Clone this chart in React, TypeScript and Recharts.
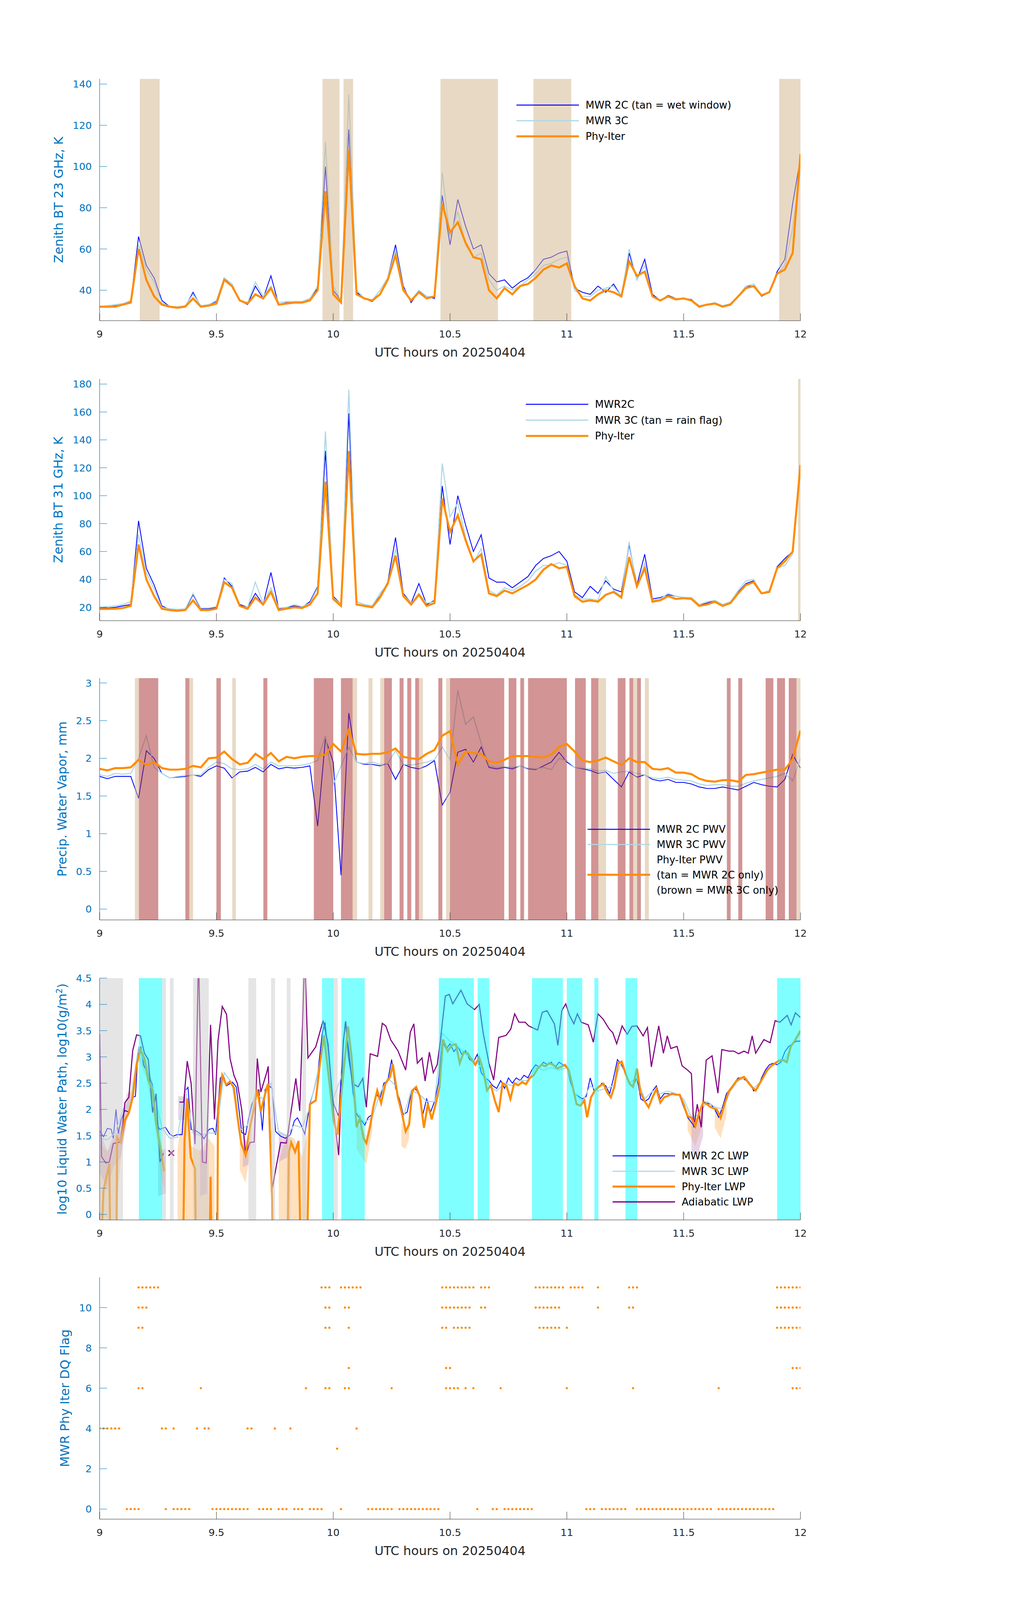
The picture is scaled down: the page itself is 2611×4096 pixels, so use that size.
import React from "react";
import {
  LineChart,
  ComposedChart,
  ScatterChart,
  Line,
  Area,
  Scatter,
  XAxis,
  YAxis,
  ReferenceArea,
  Legend,
} from "recharts";

// ---- layout (output px) ----
const W = 2611;
const CHART_H = 760;
const TOP_PAD = 20;
const PLOT_LEFT = 255;
const PLOT_RIGHT = 2049;
const PLOT_W = PLOT_RIGHT - PLOT_LEFT;
const PLOT_H = 619;
const MARGIN = { top: TOP_PAD, right: W - PLOT_RIGHT, bottom: 0, left: 0 };
const PANEL_TOPS = [202, 969.5, 1736, 2504, 3270];

const FONT = "DejaVu Sans";
const BLUE = "#0000FF";
const LIGHT = "#ADD8E6";
const ORANGE = "#FF8C00";
const PURPLE = "#800080";
const AXIS_BLUE = "#0072BD";
const DARK = "#262626";
const TAN = "#D2B48C";
const BROWN = "#A52A2A";
const CYAN = "#00FFFF";
const GRAY = "#CCCCCC";

const W_BLUE = 2.1;
const W_LIGHT = 2.7;
const W_ORANGE = 5.2;
const W_PURPLE = 2.8;

const hourTicks = [9, 9.5, 10, 10.5, 11, 11.5, 12];

// minutes after 09:00 UTC, 2-minute grid
const grid2 = [
  0, 2, 4, 6, 8, 10, 12, 14, 16, 18, 20, 22, 24, 26, 28, 30, 32, 34, 36, 38, 40, 42, 44, 46, 48, 50,
  52, 54, 56, 58, 60, 62, 64, 66, 68, 70, 72, 74, 76, 78, 80, 82, 84, 86, 88, 90, 92, 94, 96, 98, 100,
  102, 104, 106, 108, 110, 112, 114, 116, 118, 120, 122, 124, 126, 128, 130, 132, 134, 136, 138, 140,
  142, 144, 146, 148, 150, 152, 154, 156, 158, 160, 162, 164, 166, 168, 170, 172, 174, 176, 178, 180,
];

// ---- panel 1: 23 GHz ----
const bt23Ticks = [40, 60, 80, 100, 120, 140];
const bt23Phy = [
  32, 32, 32, 33, 34, 60, 45, 37, 33, 32,
  31.5, 32, 36, 32, 32.5, 33.5, 45, 42, 35, 33.5,
  38, 36, 41, 33, 33.5, 34, 34, 35, 40, 88,
  38, 34, 108, 38, 36, 35, 38, 45, 57, 40,
  35, 39, 36, 37, 82, 68, 73, 63, 56, 55,
  40, 36, 41, 38, 42, 43, 46, 50, 52, 51,
  53, 42, 36, 35, 38, 40, 39, 37, 54, 47,
  49, 37, 35, 37, 35.5, 36, 35, 32, 33, 33.5,
  32, 33, 37, 41, 42, 37.5, 39, 48, 50, 58,
  106,
];
const bt23Mwr2c = [
  32, 32, 32.5, 33, 34.5, 66, 52, 46, 35, 32,
  31.5, 32, 39, 32, 33, 34.5, 46, 42, 35, 33,
  42, 36, 47, 33, 34, 34, 34, 36, 41, 100,
  40, 35, 118, 39, 36, 34.5, 38, 46, 62, 42,
  34, 39.5, 37, 36, 86, 62, 84, 71, 60, 62,
  48, 44, 45, 41, 44, 46, 50, 55, 56, 58,
  59, 41, 39, 38, 42, 39, 43, 37, 58, 45,
  55, 38, 35, 37.5, 36, 36, 35.5, 32, 33, 33.5,
  32, 33, 37, 42, 42, 37, 39, 49, 55, 82,
  104,
];
const bt23Mwr3c = [
  32, 32.5, 33, 33.5, 35, 62, 50, 44, 34, 32,
  32, 32.5, 38, 32.5, 33, 35, 46, 43, 35, 34,
  44, 37, 42, 34, 34.5, 34.5, 34.5, 36, 42, 112,
  42, 35, 135, 40, 36, 35, 40, 46, 60, 41,
  35, 40, 37, 37, 97, 66, 78, 62, 56, 58,
  45, 40, 42, 40, 42, 45, 48, 52, 53, 55,
  56, 40, 37, 37, 40, 41, 42, 37, 60, 45,
  52, 37, 35, 37, 36, 36, 35, 32.5, 33, 34,
  32.5, 33.5, 37, 42, 43, 37.5, 39, 48, 52, 70,
  98,
];
const wetWindow23 = [
  [9.172, 9.257], [9.954, 10.027], [10.044, 10.085], [10.459, 10.705], [10.857, 11.019], [11.909, 12.0],
];

// ---- panel 2: 31 GHz ----
const bt31Ticks = [20, 40, 60, 80, 100, 120, 140, 160, 180];
const bt31Phy = [
  18.8, 18.8, 19, 19.5, 21, 65, 40, 28, 19, 18,
  17.5, 18, 25, 18, 18, 19, 38, 34, 21, 19,
  27, 22, 31, 18, 19, 20, 19.5, 22, 30, 110,
  26, 21, 132, 22, 21, 20, 27, 37, 57, 28,
  22, 29, 21, 23, 98, 74, 86, 68, 53, 58,
  30, 28, 32, 30, 33, 36, 40, 47, 51, 48,
  49, 28, 24, 25, 24, 29, 31, 27, 56, 35,
  48, 24, 25, 28, 26, 26.5, 26, 21, 22, 24,
  21, 23, 30, 36, 38, 30, 31, 48, 53, 60,
  122,
];
const bt31Mwr2c = [
  19.5, 19.5, 20, 21, 22, 82, 48, 36, 21, 18.5,
  18, 18.5, 29, 19, 19, 20, 41, 35, 22, 20,
  30, 22, 45, 19, 20, 21, 20, 24, 35, 132,
  28, 22, 159, 24, 22, 21, 28, 38, 70, 30,
  23, 37, 22, 25, 107, 65, 100, 79, 60, 72,
  41, 38, 38, 34, 38, 42, 50, 55, 57, 60,
  53, 31, 27, 35, 30, 39, 33, 31, 65, 36,
  58, 26, 27, 29, 28, 27, 27, 21.5, 23, 25,
  22, 24, 31, 37, 39, 30, 32, 49, 55, 60,
  122,
];
const bt31Mwr3c = [
  20, 20.5, 21, 22, 24, 72, 45, 33, 20, 19,
  18.5, 19, 30, 19.5, 19.5, 20.5, 40, 37, 21, 20,
  38, 23, 34, 19.5, 20, 22, 20.5, 23, 34, 146,
  27, 22, 176, 24, 22, 21, 30, 37, 62, 29,
  23, 30, 23, 24, 123, 85, 95, 70, 52, 62,
  32, 29, 34, 32, 35, 39, 46, 50, 50, 52,
  50, 29, 26, 26, 25, 42, 32, 28, 67, 34,
  52, 25, 26, 30, 28, 27, 27, 22, 24, 25,
  22, 24, 32, 39, 40, 30, 32, 48, 50, 58,
  118,
];
const rainFlag31 = [[11.99, 12.0]];

// ---- panel 3: PWV ----
const pwvTicks = [0, 0.5, 1, 1.5, 2, 2.5, 3];
const pwvPhy = [
  1.86, 1.84, 1.87, 1.87, 1.88, 1.98, 1.91, 1.95, 1.87, 1.85,
  1.85, 1.86, 1.9, 1.88, 2.0, 2.01, 2.09, 1.99, 1.92, 1.94,
  2.06, 1.99, 2.07, 1.96, 2.02, 2.0, 2.02, 2.03, 2.03, 2.05,
  2.19, 2.09, 2.38, 2.06, 2.05, 2.06, 2.06, 2.08, 2.13, 2.02,
  2.0, 1.99, 2.06, 2.11, 2.3, 2.36, 1.92, 2.09, 2.07, 2.06,
  1.96, 1.94, 1.98, 2.03, 2.03, 2.03, 2.02, 2.01, 2.05, 2.15,
  2.19, 2.09, 1.97, 1.95, 1.97, 2.01, 1.96, 1.91, 2.0, 1.95,
  1.95, 1.86, 1.85, 1.87, 1.81, 1.81, 1.79, 1.73, 1.7, 1.69,
  1.71, 1.71, 1.69, 1.78, 1.79, 1.81, 1.83, 1.85, 1.85, 1.99,
  2.37,
];
const pwvMwr2c = [
  1.76, 1.73, 1.76, 1.76, 1.76, 1.47, 2.1, 2.0, 1.8, 1.74,
  1.75, 1.76, 1.78, 1.76, 1.85, 1.9, 1.87, 1.74, 1.82, 1.83,
  1.88, 1.82, 1.92, 1.86, 1.88, 1.87, 1.88, 1.9, 1.1, 2.26,
  1.95, 0.45, 2.6, 1.95, 1.92, 1.92, 1.9, 1.93, 1.72, 1.92,
  1.88, 1.86, 1.9, 1.97, 1.38, 1.55, 2.08, 2.12, 1.95, 2.15,
  1.88, 1.86, 1.88, 1.86, 1.9, 1.86, 1.85, 1.9, 1.95, 2.08,
  1.95, 1.88, 1.86, 1.84, 1.8, 1.82, 1.72, 1.62, 1.82, 1.75,
  1.78, 1.72, 1.7, 1.72, 1.68, 1.68, 1.66, 1.62, 1.6, 1.6,
  1.62, 1.6, 1.58, 1.63, 1.68, 1.65, 1.63, 1.62, 1.72, 2.05,
  1.87,
];
const pwvMwr3c = [
  1.78, 1.76, 1.8, 1.79, 1.8, 2.0, 2.3, 1.88, 1.8, 1.74,
  1.76, 1.77, 1.78, 1.78, 1.88, 1.95, 1.93, 1.86, 1.85, 1.86,
  1.92, 1.86, 1.95, 1.9, 1.9, 1.9, 1.91, 1.93, 1.97, 2.3,
  1.65, 1.9, 2.15, 1.95, 1.93, 1.95, 1.92, 1.93, 2.1, 1.92,
  1.91, 1.93, 1.95, 1.98, 2.15, 1.98, 2.9, 2.45, 2.55, 2.2,
  1.9, 1.88, 1.89, 1.88, 1.9, 1.87, 1.86, 1.88, 1.85, 2.0,
  1.97, 1.88, 1.87, 1.86, 1.83, 1.84, 1.8, 1.82, 1.83, 1.8,
  1.78, 1.74, 1.73, 1.75, 1.72, 1.71, 1.7, 1.66, 1.64, 1.65,
  1.65, 1.63, 1.63, 1.67, 1.7, 1.72, 1.74, 1.76, 1.8, 1.7,
  2.0,
];
const pwvTanBands = [
  [9.151, 9.168], [9.384, 9.4], [9.568, 9.583], [10.083, 10.102], [10.151, 10.168], [10.201, 10.218],
  [10.367, 10.384], [10.483, 10.5], [11.135, 11.168], [11.284, 11.301], [11.334, 11.351], [11.983, 12.0],
];
const pwvBrownBands = [
  [9.168, 9.251], [9.367, 9.384], [9.5, 9.519], [9.701, 9.718], [9.917, 10.0], [10.033, 10.083],
  [10.218, 10.251], [10.284, 10.301], [10.317, 10.334], [10.351, 10.367], [10.45, 10.467], [10.5, 10.732],
  [10.751, 10.784], [10.801, 10.817], [10.834, 11.0], [11.035, 11.081], [11.104, 11.135], [11.218, 11.251],
  [11.268, 11.284], [11.301, 11.317], [11.685, 11.701], [11.734, 11.751], [11.851, 11.884], [11.9, 11.934],
  [11.95, 11.983],
];

// ---- panel 4: LWP (log10) ----
const lwpTicks = [0, 0.5, 1, 1.5, 2, 2.5, 3, 3.5, 4, 4.5];
const lwpAdiabatic: [number, number | null][] = [
  [0, 3.44], [0.5, 1.1], [1.6, 0.98], [2.5, 1.0], [3.5, 1.35], [5.4, 1.38], [6.5, 2.13], [7.5, 2.23],
  [8.5, 3.12], [9.5, 3.42], [10.5, 3.4], [11.5, 3.07], [12.5, 2.95], [13.6, 1.94], [14.5, 2.3], [15.5, 1.0],
  [16.4, 1.17], [17.4, null], [20.5, 2.14], [21.6, 2.14], [22.5, 2.92], [23.5, 2.5], [24.5, 1.34], [25.4, 5.0],
  [26.4, 1.0], [27.4, 0.98], [28.5, 3.61], [29.5, 1.81], [30.4, 3.3], [31.5, 3.96], [32.6, 3.81], [33.5, 2.97],
  [34.5, 2.65], [35.4, 2.49], [36.5, 1.99], [37.5, 1.13], [38.6, 1.37], [39.7, 1.38], [40.5, 2.97], [41.4, 2.33],
  [42.9, 2.7], [43.3, 2.82], [44.3, 0.48], [46.5, 1.37], [48, 1.36], [50.4, 2.59], [51.4, 1.97], [52.7, 5.0],
  [53.5, 2.98], [55.5, 3.19], [57.4, 3.69], [58.7, 3.24], [60.1, 1.94], [61.4, 1.13], [62.6, 3.3], [63.2, 3.68],
  [63.9, 3.01], [65, 2.49], [66.4, 2.43], [67.6, 2.59], [68.5, 2.04], [69.5, 3.06], [71.4, 3.01], [72.6, 3.64],
  [73.5, 3.59], [74.8, 3.32], [76.6, 3.12], [78.6, 2.75], [79.8, 3.47], [80.7, 3.63], [81.6, 2.88], [82.8, 2.98],
  [83.6, 2.54], [84.7, 3.09], [85.7, 2.7], [86.7, 2.85], [87.5, 3.3], [88.8, 4.16], [89.8, 4.19], [90.7, 4.01],
  [92.8, 4.27], [94.4, 4.01], [96.3, 3.9], [97.5, 4.0], [98.5, 3.46], [100, 2.88], [101.2, 2.56], [102.5, 3.37],
  [104.4, 3.41], [105.6, 3.53], [106.6, 3.82], [107.7, 3.66], [109.3, 3.66], [110.2, 3.59], [112.5, 3.51],
  [113.7, 3.85], [114.9, 3.88], [116.8, 3.63], [117.7, 3.22], [118.7, 3.88], [119.7, 4.01], [120.7, 3.79],
  [121.8, 3.63], [122.7, 3.82], [123.7, 3.66], [125.5, 3.61], [126.8, 3.28], [128, 3.82], [129.3, 3.72],
  [130.9, 3.53], [131.8, 3.46], [132.8, 3.25], [134.2, 3.59], [135.5, 3.43], [136.7, 3.58], [138, 3.59],
  [139.6, 3.4], [140.7, 3.56], [141.7, 2.81], [143.6, 3.59], [144.8, 3.07], [145.8, 3.4], [146.7, 3.16],
  [148.3, 3.2], [149.6, 2.83], [151, 2.75], [152, 2.68], [152.6, 1.66], [153.5, 2.1], [154.5, 1.66],
  [155.8, 2.94], [157.3, 3.02], [158.8, 2.31], [159.8, 3.14], [161.6, 3.11], [162.9, 3.11], [164.1, 3.06],
  [165.5, 3.11], [166.6, 3.07], [167.6, 3.4], [168.5, 3.07], [170.6, 3.33], [172.2, 3.27], [173.5, 3.69],
  [174.7, 3.66], [176.6, 3.79], [177.6, 3.61], [178.7, 3.84], [180, 3.75],
];
const lwpPhy: [number, number | null][] = [
  [0.2, -1], [1, 0.46], [2.5, 0.97], [2.8, -1], [3, null], [4.3, -1], [4.5, 1.47], [5.5, 1.37], [6.5, 1.8],
  [7.5, 1.93], [8.5, 2.23], [9.5, 2.85], [10.5, 3.14], [11.5, 2.97], [12.5, 2.56], [13.6, 2.36], [14.5, 1.75],
  [16, 1.08], [16.6, 0.82], [17, null], [21.4, -1], [21.8, 1.4], [22.5, 2.21], [23.4, 1.09], [24.5, 0.87],
  [24.8, -1], [25, null], [28.2, -1], [28.5, 0.72], [28.8, -1], [29, null], [30.2, -1], [30.4, 2.01],
  [31.5, 2.65], [32.5, 2.47], [33.5, 2.53], [34.5, 2.41], [35.4, 1.86], [36.4, 1.34], [37.5, 1.13], [38.6, 1.66],
  [39.7, 2.04], [40.5, 2.38], [41.4, 1.96], [42.9, 2.41], [43.3, 2.49], [44.3, 0.3], [44.5, -1], [45, null],
  [48.2, -1], [48.6, 1.18], [49.2, 1.37], [50.2, 1.19], [51.1, 1.4], [51.7, -1], [52, null], [53.2, -1],
  [54, 2.1], [55.5, 2.17], [56.6, 2.88], [57.6, 3.41], [58.9, 2.59], [60.1, 1.78], [61.1, 1.52], [62.5, 2.6],
  [63.8, 3.58], [64.7, 3.01], [66, 1.66], [66.8, 1.84], [67.8, 1.45], [68.5, 1.36], [69.5, 1.68], [70.3, 2.05],
  [71.3, 2.36], [72.3, 2.12], [73.4, 2.49], [74.6, 2.62], [75.3, 2.86], [76.6, 2.23], [77.6, 1.94], [78.6, 1.58],
  [79.5, 1.71], [80.3, 2.36], [81.3, 2.43], [82.3, 2.23], [83.3, 1.65], [84.3, 2.1], [85.3, 1.81], [86.3, 2.1],
  [87.3, 2.43], [88.2, 3.33], [89.4, 3.11], [90.4, 3.22], [91.5, 3.24], [92.5, 2.88], [93.5, 3.09], [94.5, 3.07],
  [95.6, 2.94], [96.5, 2.85], [97.5, 2.99], [98.5, 2.75], [99.5, 2.36], [100.5, 2.46], [101.5, 2.17],
  [102.5, 1.95], [103.5, 2.5], [104.5, 2.45], [105.5, 2.2], [106.5, 2.5], [107.5, 2.46], [108.5, 2.52],
  [109.5, 2.48], [110.5, 2.6], [111.5, 2.65], [112.5, 2.78], [113.5, 2.85], [114.5, 2.82], [115.5, 2.88],
  [116.5, 2.85], [117.5, 2.78], [118.5, 2.81], [119.5, 2.85], [120.5, 2.75], [121.5, 2.43], [122.5, 2.1],
  [123.5, 2.07], [124.5, 2.17], [125.2, 1.85], [126.2, 2.23], [127.2, 2.36], [128.2, 2.43], [129.4, 2.49],
  [130.3, 2.33], [131.3, 2.23], [132.2, 2.43], [133.2, 2.88], [134.1, 2.91], [135.1, 2.68], [136.1, 2.49],
  [137, 2.43], [138, 2.78], [138.9, 2.33], [139.9, 2.17], [141, 2.04], [142, 2.23], [143, 2.39], [144, 2.13],
  [145, 2.23], [146, 2.26], [147, 2.3], [148, 2.28], [149, 2.28], [150, 2.1], [151, 1.87], [152, 1.84],
  [153, 1.68], [154, 1.94], [155, 2.13], [156, 2.1], [157, 2.04], [158.5, 2.0], [159.5, 1.84], [160.5, 2.1],
  [161.5, 2.33], [162.5, 2.43], [163.5, 2.54], [164.5, 2.59], [165.5, 2.62], [166.5, 2.52], [167.5, 2.43],
  [168.5, 2.36], [169.5, 2.49], [170.5, 2.62], [171.5, 2.75], [172.5, 2.83], [173.5, 2.88], [174.5, 2.93],
  [175.5, 2.94], [176.5, 2.9], [177.5, 3.2], [178.5, 3.3], [180, 3.5],
];
const lwpMwr2c: [number, number | null][] = [
  [0, 1.59], [1, 1.48], [2, 1.64], [3, 1.62], [3.5, 1.45], [4.2, 2.0], [4.8, 1.54], [5.5, 1.8], [6.5, 1.98],
  [7.5, 1.95], [8.5, 2.23], [9.2, 2.25], [9.9, 3.13], [10.6, 3.19], [11.3, 2.84], [12.4, 2.69], [13.5, 2.48],
  [14.5, 1.75], [15.4, 1.62], [16.9, 1.66], [18, 1.53], [18.9, 1.49], [19.9, 1.52], [21.2, 1.52], [21.9, 2.35],
  [22.7, 2.42], [23.5, 1.62], [24.8, 1.59], [26, 1.53], [26.8, 1.44], [28.1, 1.62], [29.1, 1.64], [29.8, 1.52],
  [31, 2.6], [31.8, 2.65], [32.6, 2.45], [34.1, 2.52], [35.1, 2.43], [35.9, 1.93], [36.5, 1.56], [37.5, 1.52],
  [38.2, 1.8], [39.1, 2.1], [40, 2.23], [40.9, 2.38], [41.8, 1.6], [42.5, 2.38], [43.5, 2.45], [44.3, 2.4],
  [45.2, 1.58], [46.5, 1.49], [47.7, 1.45], [49, 1.52], [50, 1.78], [50.8, 1.84], [51.7, 1.71], [52.7, 1.53],
  [54, 2.1], [55, 2.36], [56, 2.68], [57.2, 3.46], [57.9, 3.66], [58.9, 2.91], [60.1, 2.1], [61.4, 1.87],
  [62.4, 3.07], [63.1, 3.66], [64.1, 3.07], [65.1, 2.3], [66.1, 1.9], [67.1, 1.8], [68.1, 1.7], [69, 1.85],
  [70, 1.9], [71, 2.3], [72, 2.2], [73, 2.5], [74, 2.55], [75, 2.95], [76, 2.4], [77, 2.2], [78, 1.9],
  [79, 1.95], [80, 2.3], [81, 2.4], [82, 2.3], [83, 1.9], [84, 2.2], [85, 1.95], [86, 2.15], [87, 2.5],
  [88, 3.3], [89, 3.15], [90, 3.25], [91, 3.1], [92, 3.2], [93, 3.05], [94, 3.12], [95, 2.95], [96, 2.9],
  [97, 3.05], [98, 2.7], [99, 2.6], [100, 2.55], [101, 2.45], [102, 2.4], [103, 2.55], [104, 2.4], [105, 2.6],
  [106, 2.5], [107, 2.6], [108, 2.55], [109, 2.65], [110, 2.6], [111, 2.75], [112, 2.85], [113, 2.8],
  [114, 2.9], [115, 2.85], [116, 2.9], [117, 2.8], [118, 2.9], [119, 2.85], [120, 2.8], [121, 2.5],
  [122, 2.3], [123, 2.25], [124, 2.2], [125, 2.25], [126, 2.6], [127, 2.35], [128, 2.4], [129, 2.5],
  [130, 2.45], [131, 2.3], [132, 2.6], [133, 2.95], [134, 2.85], [135, 2.7], [136, 2.5], [137, 2.45],
  [138, 2.6], [139, 2.2], [140, 2.15], [141, 2.2], [142, 2.35], [143, 2.45], [144, 2.2], [145, 2.3],
  [146, 2.3], [147, 2.28], [148, 2.3], [149, 2.25], [150, 2.05], [151, 1.85], [152, 1.75], [153, 1.65],
  [154, 1.95], [155, 2.15], [156, 2.12], [157, 2.1], [158, 2.0], [159, 1.85], [160, 2.05], [161, 2.3],
  [162, 2.4], [163, 2.5], [164, 2.6], [165, 2.6], [166, 2.55], [167, 2.5], [168, 2.35], [169, 2.4],
  [170, 2.6], [171, 2.75], [172, 2.85], [173, 2.88], [174, 2.85], [175, 2.9], [176, 3.1], [177, 3.2],
  [178, 3.25], [179, 3.3], [180, 3.3],
];
const lwpMwr3c = [
  1.45, 1.42, 1.55, 2.0, 2.15, 3.2, 2.8, 2.3, 1.65, 1.45,
  1.47, 2.4, 1.55, 1.5, 1.55, 1.55, 2.7, 2.5, 1.6, 1.7,
  2.3, 2.2, 2.5, 1.55, 1.5, 1.7, 1.65, 2.05, 2.7, 3.45,
  2.2, 2.6, 3.5, 1.95, 1.75, 1.85, 2.3, 2.6, 2.45, 1.85,
  2.35, 2.3, 2.15, 2.15, 3.45, 3.3, 3.2, 3.05, 2.95, 2.8,
  2.45, 2.35, 2.5, 2.45, 2.55, 2.55, 2.8, 2.75, 2.8, 2.75,
  2.8, 2.3, 2.15, 2.45, 2.35, 2.4, 2.45, 2.9, 2.5, 2.6,
  2.2, 2.35, 2.3, 2.35, 2.3, 2.2, 1.85, 1.9, 2.15, 2.05,
  2.0, 2.35, 2.55, 2.6, 2.4, 2.55, 2.8, 2.9, 2.95, 3.25,
  3.45,
];
// uncertainty envelopes [minute, low, high]
const lwpPhySpread: [number, number | null, number | null][] = [
  [0, -0.2, 1.35], [2, -0.2, 1.2], [4, -0.2, 1.45], [6, 1.55, 1.9], [8, 2.05, 2.35], [10, 2.95, 3.2],
  [12, 2.6, 2.95], [14, 1.8, 2.4], [16, 0.6, 1.3], [16.8, 0.5, 1.0], [17, null, null],
  [20, -0.2, 1.25], [22, -0.2, 2.3], [23.5, -0.2, 1.3], [26, -0.2, 1.2], [28, -0.2, 1.45], [29.5, -0.2, 1.3],
  [30, null, null], [36, 0.85, 1.5], [37.5, 0.6, 1.25], [39, 1.4, 1.75], [39.5, null, null],
  [46, -0.2, 1.0], [48, -0.2, 1.5], [50, -0.2, 1.45], [52, -0.2, 1.1], [53.5, -0.2, 1.6], [54, null, null],
  [66, 1.25, 1.75], [68.5, 0.95, 1.5], [70, 1.6, 2.0], [70.5, null, null],
  [77.5, 1.3, 1.75], [78.6, 1.25, 1.65], [79.5, 1.45, 1.8], [80, null, null],
  [151, 1.6, 1.95], [153, 1.3, 1.8], [155, 1.75, 2.1], [155.5, null, null],
  [158, 1.65, 2.0], [159.5, 1.45, 1.9], [161, 1.9, 2.2],
];
const lwpAdiSpread: [number, number | null, number | null][] = [
  [0, 0.8, 1.6], [2, 0.5, 1.2], [3.5, 0.9, 1.5], [5.5, 1.1, 1.6], [7, 1.8, 2.3], [8, 2.1, 2.35], [8.5, null, null],
  [15, 0.35, 1.2], [17, 0.4, 1.25], [17.5, null, null], [20.2, 1.8, 2.25], [22, 1.8, 2.25], [22.5, null, null],
  [25.8, 0.35, 1.25], [27.6, 0.4, 1.2], [28, null, null], [36.8, 0.9, 1.5], [38.2, 0.95, 1.35], [38.5, null, null],
  [46, 1.0, 1.6], [48.5, 1.1, 1.5], [49, null, null], [152, 1.2, 2.0], [153.5, 1.1, 1.8], [155, 1.5, 2.1],
];
const lwpAdiMarker: [number, number][] = [[18.4, 1.17]];
const lwpGrayBands = [
  [9.0, 9.1], [9.268, 9.284], [9.301, 9.317], [9.4, 9.467], [9.637, 9.67], [9.734, 9.751], [9.801, 9.817],
  [9.867, 9.884], [10.002, 10.019],
];
const lwpCyanBands = [
  [9.168, 9.268], [9.952, 10.002], [10.035, 10.135], [10.452, 10.602], [10.618, 10.668], [10.851, 10.983],
  [11.0, 11.066], [11.118, 11.135], [11.251, 11.301], [11.9, 12.0],
];

// ---- panel 5: DQ flags (minutes after 09:00 for each flag value) ----
const flagTicks = [0, 2, 4, 6, 8, 10];
const flag11Min = [10, 11, 12, 13, 14, 15, 57, 58, 59, 62, 63, 64, 65, 66, 67, 88, 89, 90, 91, 92, 93, 94, 95, 96,
  98, 99, 100, 112, 113, 114, 115, 116, 117, 118, 119, 121, 122, 123, 124, 128, 136, 137, 138,
  174, 175, 176, 177, 178, 179, 180];
const flag10Min = [10, 11, 12, 58, 59, 63, 64, 88, 89, 90, 91, 92, 93, 94, 95, 98, 99, 112, 113, 114, 115, 116,
  117, 118, 128, 136, 137, 174, 175, 176, 177, 178, 179, 180];
const flag9Min = [10, 11, 58, 59, 64, 88, 89, 91, 92, 93, 94, 95, 113, 114, 115, 116, 117, 118, 120,
  174, 175, 176, 177, 178, 179, 180];
const flag7Min = [64, 89, 90, 178, 179, 180];
const flag6Min = [10, 11, 26, 53, 58, 59, 63, 64, 75, 89, 90, 91, 92, 94, 96, 103, 120, 137, 159, 178, 179, 180];
const flag4Min = [0, 1, 2, 3, 4, 5, 16, 17, 19, 25, 27, 28, 38, 39, 45, 49, 66];
const flag3Min = [61];
const flag0Min = [7, 8, 9, 10, 17, 19, 20, 21, 22, 23, 29, 30, 31, 32, 33, 34, 35, 36, 37, 38, 41, 42, 43, 44,
  46, 47, 48, 50, 51, 52, 54, 55, 56, 57, 62, 69, 70, 71, 72, 73, 74, 75, 77, 78, 79, 80, 81, 82, 83, 84, 85,
  86, 87, 97, 101, 102, 104, 105, 106, 107, 108, 109, 110, 111, 125, 126, 127, 129, 130, 131, 132, 133, 134,
  135, 138, 139, 140, 141, 142, 143, 144, 145, 146, 147, 148, 149, 150, 151, 152, 153, 154, 155, 156, 157,
  159, 160, 161, 162, 163, 164, 165, 166, 167, 168, 169, 170, 171, 172, 173];

// ---- helpers to build tables ----
const hour = (m: number) => 9 + m / 60;
const gridPts = (vals: number[]) => grid2.map((m, i) => ({ t: hour(m), v: vals[i] }));
const pairPts = (pairs: [number, number | null][]) => pairs.map(([m, v]) => ({ t: hour(m), v }));
const spreadPts = (rows: [number, number | null, number | null][]) =>
  rows.map(([m, lo, hi]) => ({ t: hour(m), r: lo === null || hi === null ? null : [lo, hi] }));
const flagPts = [
  ...flag0Min.map((m) => ({ t: hour(m), f: 0 })),
  ...flag3Min.map((m) => ({ t: hour(m), f: 3 })),
  ...flag4Min.map((m) => ({ t: hour(m), f: 4 })),
  ...flag6Min.map((m) => ({ t: hour(m), f: 6 })),
  ...flag7Min.map((m) => ({ t: hour(m), f: 7 })),
  ...flag9Min.map((m) => ({ t: hour(m), f: 9 })),
  ...flag10Min.map((m) => ({ t: hour(m), f: 10 })),
  ...flag11Min.map((m) => ({ t: hour(m), f: 11 })),
];

// ---- axis drawing ----
const renderXTick = (p: any) => (
  <g>
    <line x1={p.x} x2={p.x} y1={p.y} y2={p.y - 19} stroke={DARK} strokeWidth={1} />
    <text x={p.x} y={p.y + 34} dy="0.36em" textAnchor="middle" fontSize={25.5} fontFamily={FONT} fill={DARK}>
      {p.payload.value}
    </text>
  </g>
);
const renderYTick = (p: any) => (
  <g>
    <line x1={p.x} x2={p.x + 19} y1={p.y} y2={p.y} stroke={AXIS_BLUE} strokeWidth={1} />
    <text x={p.x - 20} y={p.y} dy="0.36em" textAnchor="end" fontSize={25.5} fontFamily={FONT} fill={AXIS_BLUE}>
      {p.payload.value}
    </text>
  </g>
);

function xAxis() {
  return (
    <XAxis
      key="x"
      type="number"
      dataKey="t"
      domain={[9, 12]}
      ticks={hourTicks}
      allowDataOverflow
      interval={0}
      height={CHART_H - TOP_PAD - PLOT_H}
      tickSize={0}
      tickMargin={0}
      tickLine={false}
      axisLine={{ stroke: DARK, strokeWidth: 1.2 }}
      tick={renderXTick}
      label={{
        value: "UTC hours on 20250404",
        content: () => (
          <text
            x={PLOT_LEFT + PLOT_W / 2}
            y={TOP_PAD + PLOT_H + 80}
            dy="0.36em"
            textAnchor="middle"
            fontSize={32}
            fontFamily={FONT}
            fill={DARK}
          >
            UTC hours on 20250404
          </text>
        ),
      }}
    />
  );
}

function yAxis(domain: number[], ticks: number[], title: React.ReactNode, titleX: number, dataKey?: string) {
  return (
    <YAxis
      key="y"
      type="number"
      dataKey={dataKey}
      domain={domain}
      ticks={ticks}
      allowDataOverflow
      interval={0}
      width={PLOT_LEFT}
      tickSize={0}
      tickMargin={0}
      tickLine={false}
      axisLine={{ stroke: AXIS_BLUE, strokeWidth: 1.2 }}
      tick={renderYTick}
      label={{
        value: "y",
        content: () => (
          <text
            transform={`translate(${titleX},${TOP_PAD + PLOT_H / 2}) rotate(-90)`}
            dy="0.36em"
            textAnchor="middle"
            fontSize={32}
            fontFamily={FONT}
            fill={AXIS_BLUE}
          >
            {title}
          </text>
        ),
      }}
    />
  );
}

type LegendItem = { label: string; color?: string; w?: number };

function legend(items: LegendItem[], x0: number, rowY0: number, gap: number, panel: number) {
  const h = items.length * gap + 20;
  return (
    <Legend
      key="legend"
      layout="horizontal"
      verticalAlign="middle"
      align="center"
      wrapperStyle={{ left: x0, top: rowY0 - (PANEL_TOPS[panel] - TOP_PAD) - 20, width: 760, height: h, margin: 0, padding: 0 }}
      content={() => (
        <svg width={760} height={h} style={{ display: "block", overflow: "visible" }}>
          {items.map((it, i) => {
            const y = 20 + i * gap;
            return (
              <g key={i}>
                {it.color ? <line x1={0} x2={160} y1={y} y2={y} stroke={it.color} strokeWidth={it.w ?? 2.4} /> : null}
                <text x={177} y={y} dy="0.36em" fontSize={26} fontFamily={FONT} fill="#000">
                  {it.label}
                </text>
              </g>
            );
          })}
        </svg>
      )}
    />
  );
}

const lineProps = {
  type: "linear" as const,
  dataKey: "v",
  dot: false,
  activeDot: false,
  isAnimationActive: false,
  connectNulls: false,
};

function bands(list: number[][], color: string, z: number, prefix: string) {
  return list.map(([a, b], i) => (
    <ReferenceArea key={`${prefix}${i}`} x1={a} x2={b} fill={color} fillOpacity={0.5} stroke="none" zIndex={z} />
  ));
}

const Panel = ({ index, children }: { index: number; children: React.ReactNode }) => (
  <div style={{ position: "absolute", left: 0, top: PANEL_TOPS[index] - TOP_PAD, width: W, height: CHART_H }}>
    {children}
  </div>
);

export default function App() {
  return (
    <div
      style={{
        position: "absolute",
        left: 0,
        top: 0,
        width: W,
        height: 4096,
        background: "#fff",
        overflow: "hidden",
        fontFamily: FONT,
      }}
    >
      {/* 23 GHz */}
      <Panel index={0}>
        <LineChart width={W} height={CHART_H} margin={MARGIN}>
          {xAxis()}
          {yAxis([25.2, 142.5], bt23Ticks, "Zenith BT 23 GHz, K", 149)}
          <Line {...lineProps} data={gridPts(bt23Mwr2c)} stroke={BLUE} strokeWidth={W_BLUE} zIndex={401} />
          <Line {...lineProps} data={gridPts(bt23Mwr3c)} stroke={LIGHT} strokeWidth={W_LIGHT} zIndex={402} />
          {bands(wetWindow23, TAN, 403, "w")}
          <Line {...lineProps} data={gridPts(bt23Phy)} stroke={ORANGE} strokeWidth={W_ORANGE} zIndex={404} />
          {legend(
            [
              { label: "MWR 2C (tan = wet window)", color: BLUE, w: 2.4 },
              { label: "MWR 3C", color: LIGHT, w: 2.8 },
              { label: "Phy-Iter", color: ORANGE, w: 5.2 },
            ],
            1322,
            269,
            40,
            0
          )}
        </LineChart>
      </Panel>

      {/* 31 GHz */}
      <Panel index={1}>
        <LineChart width={W} height={CHART_H} margin={MARGIN}>
          {xAxis()}
          {yAxis([10.4, 183.7], bt31Ticks, "Zenith BT 31 GHz, K", 148)}
          <Line {...lineProps} data={gridPts(bt31Mwr2c)} stroke={BLUE} strokeWidth={W_BLUE} zIndex={401} />
          <Line {...lineProps} data={gridPts(bt31Mwr3c)} stroke={LIGHT} strokeWidth={W_LIGHT} zIndex={402} />
          {bands(rainFlag31, TAN, 403, "r")}
          <Line {...lineProps} data={gridPts(bt31Phy)} stroke={ORANGE} strokeWidth={W_ORANGE} zIndex={404} />
          {legend(
            [
              { label: "MWR2C", color: BLUE, w: 2.4 },
              { label: "MWR 3C (tan = rain flag)", color: LIGHT, w: 2.8 },
              { label: "Phy-Iter", color: ORANGE, w: 5.2 },
            ],
            1346,
            1035,
            40.5,
            1
          )}
        </LineChart>
      </Panel>

      {/* PWV */}
      <Panel index={2}>
        <LineChart width={W} height={CHART_H} margin={MARGIN}>
          {xAxis()}
          {yAxis([-0.144, 3.064], pwvTicks, "Precip. Water Vapor, mm", 158)}
          <Line {...lineProps} data={gridPts(pwvMwr2c)} stroke={BLUE} strokeWidth={W_BLUE} zIndex={401} />
          <Line {...lineProps} data={gridPts(pwvMwr3c)} stroke={LIGHT} strokeWidth={W_LIGHT} zIndex={402} />
          {bands(pwvTanBands, TAN, 403, "t")}
          {bands(pwvBrownBands, BROWN, 403, "b")}
          <Line {...lineProps} data={gridPts(pwvPhy)} stroke={ORANGE} strokeWidth={W_ORANGE} zIndex={404} />
          {legend(
            [
              { label: "MWR 2C PWV", color: BLUE, w: 2.4 },
              { label: "MWR 3C PWV", color: LIGHT, w: 2.8 },
              { label: "Phy-Iter PWV" },
              { label: "(tan = MWR 2C only)", color: ORANGE, w: 5.2 },
              { label: "(brown = MWR 3C only)" },
            ],
            1504,
            2123,
            38.8,
            2
          )}
        </LineChart>
      </Panel>

      {/* LWP */}
      <Panel index={3}>
        <ComposedChart width={W} height={CHART_H} margin={MARGIN}>
          {xAxis()}
          {yAxis(
            [-0.104, 4.5],
            lwpTicks,
            <>
              log10 Liquid Water Path, log10(g/m
              <tspan dy={-11} fontSize={21}>
                2
              </tspan>
              <tspan dy={11}>)</tspan>
            </>,
            158,
            "v"
          )}
          <Area
            type="linear"
            dataKey="r"
            data={spreadPts(lwpPhySpread)}
            stroke="none"
            fill="#FFC68A"
            fillOpacity={0.55}
            isAnimationActive={false}
            activeDot={false}
            connectNulls={false}
            zIndex={398}
          />
          <Area
            type="linear"
            dataKey="r"
            data={spreadPts(lwpAdiSpread)}
            stroke="none"
            fill="#C8A0C8"
            fillOpacity={0.45}
            isAnimationActive={false}
            activeDot={false}
            connectNulls={false}
            zIndex={399}
          />
          <Line {...lineProps} data={pairPts(lwpMwr2c)} stroke={BLUE} strokeWidth={W_BLUE} zIndex={401} />
          <Line {...lineProps} data={gridPts(lwpMwr3c)} stroke={LIGHT} strokeWidth={W_LIGHT} zIndex={402} />
          <Line {...lineProps} data={pairPts(lwpAdiabatic)} stroke={PURPLE} strokeWidth={W_PURPLE} zIndex={403} />
          <Line {...lineProps} data={pairPts(lwpPhy)} stroke={ORANGE} strokeWidth={W_ORANGE} zIndex={404} />
          <Scatter
            data={lwpAdiMarker.map(([m, v]) => ({ t: hour(m), v }))}
            dataKey="v"
            isAnimationActive={false}
            zIndex={405}
            shape={(p: any) => (
              <g stroke={PURPLE} strokeWidth={3.5}>
                <line x1={p.cx - 7} y1={p.cy - 7} x2={p.cx + 7} y2={p.cy + 7} />
                <line x1={p.cx - 7} y1={p.cy + 7} x2={p.cx + 7} y2={p.cy - 7} />
              </g>
            )}
          />
          {bands(lwpGrayBands, GRAY, 410, "g")}
          {bands(lwpCyanBands, CYAN, 410, "c")}
          {legend(
            [
              { label: "MWR 2C LWP", color: BLUE, w: 2.4 },
              { label: "MWR 3C LWP", color: LIGHT, w: 2.8 },
              { label: "Phy-Iter LWP", color: ORANGE, w: 5.2 },
              { label: "Adiabatic LWP", color: PURPLE, w: 3.2 },
            ],
            1568,
            2959,
            39.3,
            3
          )}
        </ComposedChart>
      </Panel>

      {/* DQ flag */}
      <Panel index={4}>
        <ScatterChart width={W} height={CHART_H} margin={MARGIN}>
          {xAxis()}
          {yAxis([-0.5, 11.5], flagTicks, "MWR Phy Iter DQ Flag", 165, "f")}
          <Scatter
            data={flagPts}
            dataKey="f"
            isAnimationActive={false}
            shape={(p: any) => <circle cx={p.cx} cy={p.cy} r={2.8} fill={ORANGE} />}
          />
        </ScatterChart>
      </Panel>
    </div>
  );
}
